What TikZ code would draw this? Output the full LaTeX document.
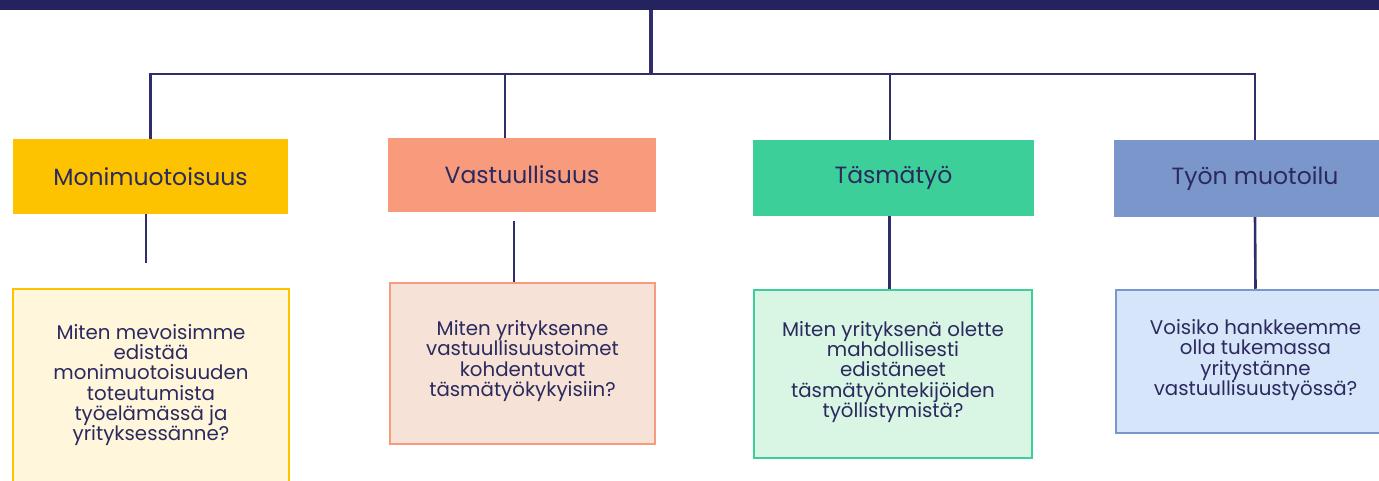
\documentclass[tikz,border=0pt]{standalone}
\usepackage{fontspec}
\setmainfont{Poppins}
\definecolor{navy}{HTML}{24235F}
\definecolor{linec}{HTML}{2F2E6C}
\definecolor{txt}{HTML}{2B2A5E}
\definecolor{yel}{HTML}{FDC300}
\definecolor{yelL}{HTML}{FFF6DC}
\definecolor{sal}{HTML}{F79B7C}
\definecolor{salL}{HTML}{F6E2D6}
\definecolor{grn}{HTML}{3DCF9A}
\definecolor{grnL}{HTML}{D9F5E4}
\definecolor{blu}{HTML}{7B96CB}
\definecolor{bluL}{HTML}{D7E5FA}
\begin{document}
\begin{tikzpicture}[x=1pt,y=-1pt,
  cat/.style={rectangle, inner sep=0pt, text=txt, font=\fontsize{23.5}{27}\selectfont},
  qbox/.style={rectangle, inner sep=0pt, line width=2.5pt},
  qtext/.style={text=txt, align=center, font=\fontsize{19.8}{20.3}\selectfont},
  conn/.style={draw=linec, line width=2.6pt}]
\useasboundingbox (0,0) rectangle (1379,481);
\clip (0,0) rectangle (1379,481);
\node[fill=navy, minimum width=1379pt, minimum height=10pt, inner sep=0pt, anchor=north west] (bar) at (0,0) {};
% category boxes
\node[cat, fill=yel, minimum width=275pt, minimum height=75pt] (c1) at (150.5,176.5) {Monimuotoisuus};
\node[cat, fill=sal, minimum width=268pt, minimum height=74pt] (c2) at (522,175) {Vastuullisuus};
\node[cat, fill=grn, minimum width=281pt, minimum height=76pt] (c3) at (893.5,178) {Täsmätyö};
\node[cat, fill=blu, minimum width=282pt, minimum height=77pt] (c4) at (1255,178.5) {Työn muotoilu};
% question boxes
\node[qbox, draw=yel, fill=yelL, minimum width=276pt, minimum height=231pt] (q1) at (151,404.5) {};
\node[qtext] (t1) at (151,385) {Miten mevoisimme\\edistää\\monimuotoisuuden\\toteutumista\\työelämässä ja\\yrityksessänne?};
\node[qbox, draw=sal, fill=salL, minimum width=265pt, minimum height=161pt] (q2) at (522.5,363.5) {};
\node[qtext] (t2) at (522.5,361) {Miten yrityksenne\\vastuullisuustoimet\\kohdentuvat\\täsmätyökykyisiin?};
\node[qbox, draw=grn, fill=grnL, minimum width=278pt, minimum height=168pt] (q3) at (893,374) {};
\node[qtext] (t3) at (893,372) {Miten yrityksenä olette\\mahdollisesti\\edistäneet\\täsmätyöntekijöiden\\työllistymistä?};
\node[qbox, draw=blu, fill=bluL, minimum width=279pt, minimum height=143pt] (q4) at (1255.5,361.5) {};
\node[qtext] (t4) at (1255.5,360) {Voisiko hankkeemme\\olla tukemassa\\yritystänne\\vastuullisuustyössä?};
% connectors
\coordinate (hub) at (651,74);
\draw[conn, line width=3.4pt] (bar.south -| hub) -- (hub);
\draw[conn] (c1.north) |- (hub) -| (c4.north);
\coordinate (d2) at ([xshift=-17pt]c2.north);
\draw[conn] (d2) -- (d2 |- hub);
\coordinate (d3) at ([xshift=-3.5pt]c3.north);
\draw[conn] (d3) -- (d3 |- hub);
\coordinate (e1) at (146,263);
\draw[conn] (c1.south -| e1) -- (e1);
\coordinate (e2) at (514,221);
\draw[conn] (e2) -- (e2 |- q2.north);
\coordinate (e3) at ([xshift=-4pt]c3.south);
\draw[conn] (e3) -- (e3 |- q3.north);
\draw[conn] (c4.south) -- (q4.north);
\end{tikzpicture}
\end{document}
